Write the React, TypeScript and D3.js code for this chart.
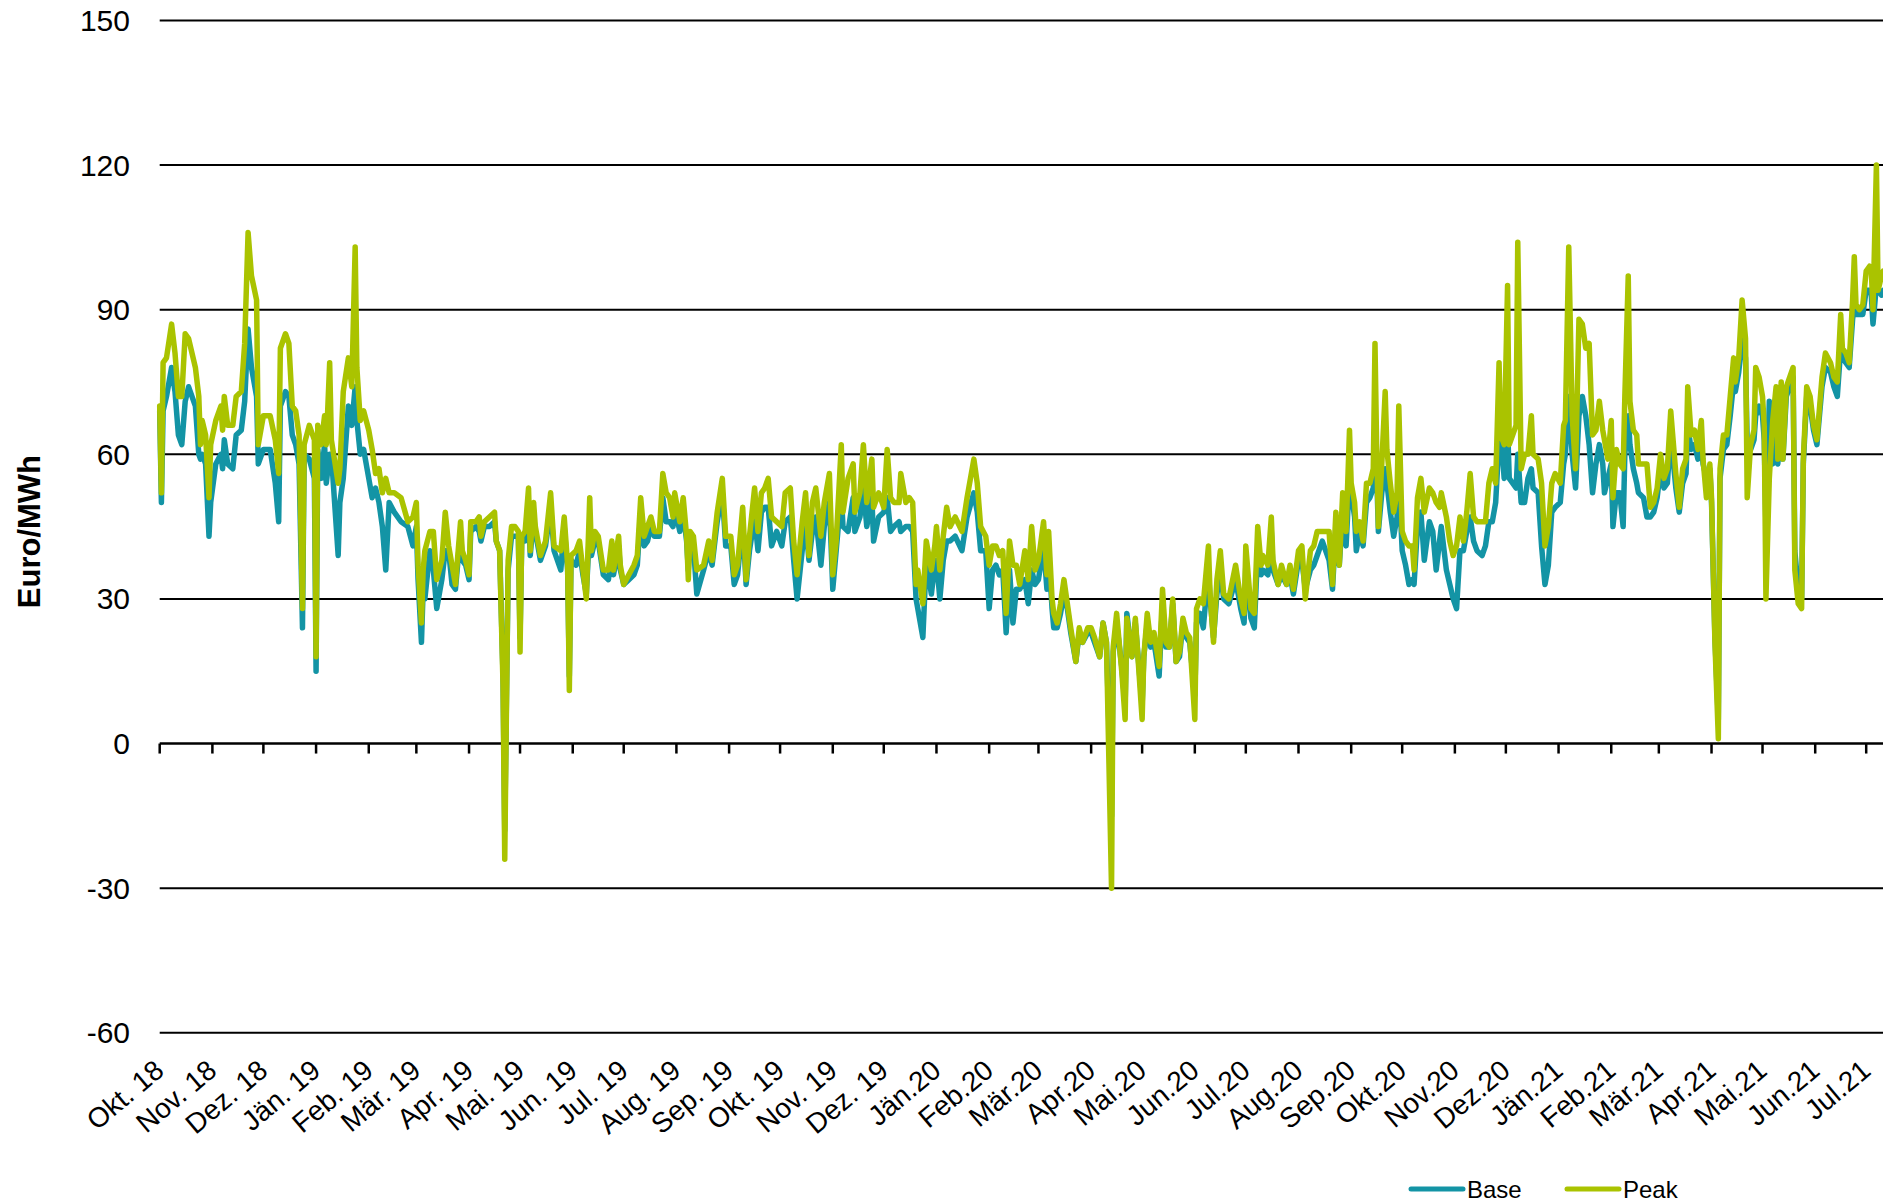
import React, { useEffect, useRef } from 'react';
import * as d3 from 'd3';

// one row per month, Okt.18 .. Jul.21
const monthLabels = [
  'Okt. 18', 'Nov. 18', 'Dez. 18', 'Jän. 19', 'Feb. 19', 'Mär. 19', 'Apr. 19', 'Mai. 19',
  'Jun. 19', 'Jul. 19', 'Aug. 19', 'Sep. 19', 'Okt. 19', 'Nov. 19', 'Dez. 19',
  'Jän.20', 'Feb.20', 'Mär.20', 'Apr.20', 'Mai.20', 'Jun.20', 'Jul.20', 'Aug.20', 'Sep.20',
  'Okt.20', 'Nov.20', 'Dez.20', 'Jän.21', 'Feb.21', 'Mär.21', 'Apr.21', 'Mai.21', 'Jun.21', 'Jul.21',
];

// day of month of each reading
const days = [
  [1, 2, 3, 5, 8, 10, 12, 14, 16, 18, 22, 24, 25, 26, 28, 30, 31],
  [3, 6, 7, 8, 10, 13, 15, 18, 20, 22, 24, 27, 28],
  [1, 5, 8, 10, 11, 14, 16, 18, 20, 22, 24, 25, 28, 31],
  [1, 2, 4, 6, 7, 9, 10, 14, 15, 17, 20, 22, 24, 25, 27, 29],
  [1, 3, 5, 7, 9, 11, 13, 16, 20, 24, 27],
  [1, 2, 4, 5, 6, 9, 11, 13, 16, 18, 20, 22, 24, 27, 28, 30],
  [1, 2, 5, 7, 8, 10, 13, 16, 17, 19, 21, 22, 24, 26, 28, 30],
  [1, 2, 4, 6, 7, 9, 10, 13, 16, 19, 21, 25, 27, 29, 30, 31],
  [3, 5, 7, 9, 11, 12, 14, 16, 19, 22, 24, 25, 28, 29],
  [1, 4, 7, 9, 11, 13, 15, 17, 19, 22, 24, 26, 28, 30, 31],
  [3, 5, 7, 8, 9, 11, 13, 17, 20, 22, 25, 28, 30],
  [2, 4, 6, 9, 11, 13, 16, 18, 20, 22, 24, 26, 29],
  [2, 4, 7, 9, 11, 14, 16, 18, 20, 22, 25, 27, 30],
  [1, 3, 6, 7, 10, 13, 14, 17, 19, 21, 24, 25, 28],
  [1, 3, 5, 7, 10, 11, 14, 16, 18, 20, 21, 24, 26, 29, 31],
  [1, 3, 5, 7, 9, 12, 16, 19, 23, 25, 27, 30],
  [1, 3, 5, 7, 9, 11, 13, 15, 17, 19, 22, 24, 26, 28],
  [1, 4, 6, 7, 9, 10, 12, 14, 16, 18, 20, 23, 25, 27, 30],
  [1, 3, 6, 8, 10, 13, 14, 16, 19, 21, 22, 25, 27],
  [1, 2, 4, 6, 8, 11, 13, 15, 17, 19, 21, 23, 25, 27, 29],
  [1, 2, 4, 6, 9, 10, 12, 14, 16, 18, 21, 25, 28, 30],
  [1, 4, 6, 8, 10, 11, 14, 16, 17, 20, 22, 25, 27, 29],
  [1, 3, 5, 8, 10, 12, 15, 19, 21, 23, 25, 27, 29, 31],
  [1, 3, 4, 6, 8, 10, 12, 14, 15, 16, 17, 19, 21, 22, 24, 26, 28, 29],
  [1, 3, 5, 7, 8, 10, 12, 14, 17, 19, 21, 23, 24, 27, 29, 31],
  [2, 4, 6, 8, 10, 12, 14, 17, 19, 21, 23, 25, 27, 28, 30],
  [2, 3, 5, 7, 8, 10, 12, 14, 16, 17, 20, 22, 24, 26, 28, 30],
  [2, 4, 5, 7, 9, 11, 13, 15, 17, 19, 21, 23, 25, 27, 28, 30],
  [1, 2, 4, 6, 8, 9, 11, 12, 14, 16, 17, 20, 22, 24, 26, 28],
  [2, 4, 6, 8, 11, 13, 15, 17, 18, 20, 22, 24, 26, 27, 29, 31],
  [1, 3, 5, 6, 8, 10, 12, 14, 15, 17, 19, 21, 22, 24, 26, 27, 29],
  [1, 2, 3, 5, 7, 9, 10, 12, 13, 15, 17, 19, 20, 22, 24, 25, 27, 29, 31],
  [2, 5, 7, 10, 12, 14, 16, 17, 19, 21, 23, 24, 25, 27, 29],
  [1, 3, 4, 5, 7, 8, 10, 11],
];

const peak = [
  [70, 52, 79, 80, 87, 81, 72, 72, 85, 84, 78, 72, 62, 67, 64, 51, 62],
  [67, 70, 65, 72, 66, 66, 72, 73, 83, 106, 97, 92, 62],
  [68, 68, 63, 56, 82, 85, 83, 70, 69, 64, 28, 62, 66, 63],
  [18, 66, 62, 68, 62, 79, 63, 54, 57, 73, 80, 74, 103, 78, 67, 69],
  [65, 61, 56, 57, 52, 55, 52, 52, 51, 46, 47],
  [50, 37, 25, 36, 40, 44, 44, 34, 38, 48, 41, 37, 33, 46, 40, 38],
  [35, 46, 46, 47, 43, 46, 47, 48, 42, 40, 12, -24, 38, 45, 45, 44],
  [19, 43, 44, 53, 40, 50, 45, 39, 42, 52, 41, 40, 47, 37, 11, 39],
  [40, 42, 36, 30, 51, 40, 44, 43, 36, 36, 42, 36, 43, 37],
  [33, 35, 37, 39, 51, 43, 45, 47, 44, 44, 56, 52, 51, 47, 52],
  [46, 51, 43, 34, 44, 43, 36, 37, 42, 38, 48, 55, 43],
  [43, 35, 37, 49, 34, 43, 53, 44, 52, 53, 55, 47, 46],
  [45, 52, 53, 42, 35, 46, 52, 39, 50, 53, 43, 50, 56],
  [35, 42, 62, 48, 55, 58, 48, 52, 62, 50, 59, 49, 52],
  [49, 61, 51, 50, 50, 56, 50, 51, 50, 33, 36, 29, 42, 36, 41],
  [45, 36, 43, 49, 45, 47, 44, 51, 59, 54, 45, 43],
  [37, 41, 41, 39, 40, 27, 42, 37, 37, 33, 40, 34, 45, 36],
  [38, 46, 35, 44, 30, 27, 25, 29, 34, 29, 24, 17, 24, 21, 24],
  [24, 22, 18, 25, 21, -30, 20, 27, 15, 5, 26, 18, 26],
  [5, 18, 27, 21, 23, 16, 32, 21, 20, 30, 17, 19, 26, 23, 22],
  [5, 28, 30, 29, 41, 31, 21, 34, 40, 31, 30, 37, 30, 27],
  [41, 28, 27, 45, 37, 39, 37, 47, 38, 33, 37, 33, 37, 32],
  [40, 41, 30, 40, 41, 44, 44, 44, 33, 48, 37, 52, 44, 65],
  [54, 50, 44, 46, 42, 54, 54, 57, 83, 61, 45, 58, 73, 61, 54, 48, 52, 70],
  [44, 42, 41, 41, 36, 51, 55, 48, 53, 52, 50, 49, 52, 47, 42, 39],
  [41, 47, 42, 48, 56, 47, 46, 46, 46, 54, 57, 54, 79, 64, 62],
  [95, 62, 64, 66, 104, 57, 60, 60, 68, 60, 59, 54, 41, 45, 54, 56],
  [54, 66, 67, 103, 68, 57, 88, 87, 82, 83, 64, 65, 71, 65, 63, 59],
  [67, 51, 61, 58, 57, 72, 97, 71, 65, 64, 58, 58, 58, 49, 50, 53],
  [60, 55, 57, 69, 56, 49, 57, 59, 74, 64, 65, 61, 67, 59, 51, 58],
  [51, 21, 1, 57, 64, 64, 72, 80, 75, 80, 92, 84, 51, 62, 65, 78, 76],
  [72, 66, 30, 55, 67, 74, 59, 75, 59, 74, 76, 78, 36, 29, 28, 59, 74, 72, 66],
  [63, 76, 81, 79, 76, 75, 89, 82, 81, 79, 92, 101, 91, 90, 91],
  [98, 99, 98, 90, 120, 94, 97, 98],
];

const base = [
  [69, 50, 69, 72, 78, 73, 64, 62, 71, 74, 70, 60, 59, 60, 58, 43, 50],
  [58, 60, 57, 63, 58, 57, 64, 65, 71, 86, 78, 72, 58],
  [61, 61, 54, 46, 70, 73, 72, 64, 62, 58, 24, 60, 59, 55],
  [15, 61, 55, 62, 54, 60, 60, 39, 50, 55, 70, 66, 74, 67, 60, 61],
  [55, 51, 53, 50, 45, 36, 50, 48, 46, 45, 41],
  [45, 34, 21, 32, 30, 40, 36, 28, 34, 40, 40, 33, 32, 44, 38, 37],
  [34, 44, 45, 44, 42, 45, 45, 46, 42, 40, 14, -18, 36, 43, 43, 43],
  [22, 42, 42, 49, 39, 47, 44, 38, 41, 49, 40, 36, 45, 36, 14, 38],
  [37, 40, 35, 31, 45, 39, 42, 42, 35, 34, 40, 35, 41, 36],
  [33, 34, 35, 37, 48, 41, 42, 45, 43, 43, 51, 46, 46, 45, 49],
  [44, 48, 42, 36, 42, 41, 31, 36, 40, 37, 46, 52, 41],
  [41, 33, 35, 46, 33, 40, 47, 40, 48, 49, 49, 41, 44],
  [41, 46, 47, 38, 30, 40, 46, 38, 44, 47, 37, 45, 50],
  [32, 40, 52, 45, 44, 51, 44, 47, 53, 45, 51, 42, 47],
  [48, 51, 44, 45, 46, 44, 45, 45, 44, 30, 28, 22, 38, 31, 37],
  [38, 30, 38, 42, 42, 43, 40, 47, 52, 48, 40, 40],
  [28, 36, 37, 35, 36, 23, 36, 25, 32, 32, 34, 29, 36, 33],
  [34, 41, 32, 40, 28, 24, 24, 27, 31, 28, 23, 17, 23, 21, 23],
  [23, 21, 18, 25, 21, -15, 19, 25, 16, 8, 27, 18, 25],
  [8, 18, 25, 20, 21, 14, 29, 20, 20, 29, 17, 18, 25, 22, 21],
  [10, 25, 27, 24, 36, 30, 22, 31, 36, 30, 29, 34, 28, 25],
  [37, 26, 24, 40, 35, 36, 35, 44, 36, 33, 35, 33, 35, 31],
  [38, 38, 32, 36, 37, 39, 42, 38, 32, 45, 37, 48, 41, 55],
  [52, 47, 40, 44, 41, 50, 51, 53, 62, 56, 44, 52, 57, 54, 48, 43, 47, 55],
  [40, 37, 33, 34, 33, 45, 48, 38, 46, 44, 36, 42, 45, 36, 33, 30],
  [28, 40, 40, 44, 47, 42, 40, 39, 41, 46, 46, 50, 63, 65, 55],
  [66, 55, 54, 53, 60, 50, 50, 55, 57, 53, 52, 41, 33, 37, 48, 49],
  [50, 58, 60, 72, 60, 53, 68, 72, 68, 62, 52, 58, 62, 58, 52, 55],
  [58, 45, 52, 52, 45, 60, 68, 62, 57, 54, 52, 51, 47, 47, 48, 51],
  [57, 53, 54, 64, 53, 48, 54, 56, 66, 61, 62, 59, 63, 58, 55, 57],
  [50, 22, 5, 55, 61, 62, 68, 75, 73, 77, 84, 80, 62, 61, 63, 68, 70],
  [68, 63, 45, 71, 58, 70, 58, 72, 59, 72, 74, 76, 40, 32, 30, 58, 72, 70, 65],
  [62, 74, 78, 77, 74, 72, 82, 80, 79, 78, 88, 91, 89, 89, 89],
  [94, 94, 93, 87, 95, 94, 93, 94],
];

const yTicks = [150, 120, 90, 60, 30, 0, -30, -60];
const seriesNames = ['Base', 'Peak'];
const seriesColors = ['#1394a5', '#aac300'];

const FONT = "'Liberation Sans', Arial, sans-serif";

const App = () => {
  const ref = useRef<SVGSVGElement>(null);

  const drawChart = () => {
    const svgWidth = 1883,
      svgHeight = 1202;
    const svg = d3.select(ref.current).attr('width', svgWidth).attr('height', svgHeight);
    svg.selectAll('*').remove();

    const start = new Date(2018, 9, 1);
    const months = d3.timeMonth.range(start, new Date(2021, 7, 1));

    const x = d3.scaleTime().domain([start, new Date(2021, 6, 1)]).range([159.7, 1866.2]);
    const y = d3.scaleLinear().domain([-60, 150]).range([1032.8, 20.4]);

    const rows: { date: Date; base: number; peak: number }[] = [];
    days.forEach((row, i) => {
      row.forEach((d, j) => {
        rows.push({
          date: new Date(months[i].getFullYear(), months[i].getMonth(), d),
          base: base[i][j],
          peak: peak[i][j],
        });
      });
    });

    // gridlines
    svg
      .append('g')
      .selectAll('line')
      .data(yTicks.filter((v) => v !== 0))
      .join('line')
      .attr('x1', x(start))
      .attr('x2', svgWidth)
      .attr('y1', (d) => y(d))
      .attr('y2', (d) => y(d))
      .attr('stroke', '#000')
      .attr('stroke-width', 2);

    // y labels
    svg
      .append('g')
      .selectAll('text')
      .data(yTicks)
      .join('text')
      .attr('x', 130)
      .attr('y', (d) => y(d))
      .attr('text-anchor', 'end')
      .attr('dominant-baseline', 'central')
      .attr('font-family', FONT)
      .attr('font-size', 30)
      .text((d) => d);

    svg
      .append('text')
      .attr('transform', `translate(29,${(y(150) + y(-60)) / 2 + 5}) rotate(-90)`)
      .attr('text-anchor', 'middle')
      .attr('dominant-baseline', 'central')
      .attr('font-family', FONT)
      .attr('font-weight', 'bold')
      .attr('font-size', 31)
      .text('Euro/MWh');

    // zero axis with month ticks
    const g0 = svg.append('g');
    g0.append('line')
      .attr('x1', x(start))
      .attr('x2', svgWidth)
      .attr('y1', y(0))
      .attr('y2', y(0))
      .attr('stroke', '#000')
      .attr('stroke-width', 2.5);
    g0.selectAll('.tick')
      .data(months)
      .join('line')
      .attr('class', 'tick')
      .attr('x1', (d) => x(d))
      .attr('x2', (d) => x(d))
      .attr('y1', y(0))
      .attr('y2', y(0) + 10)
      .attr('stroke', '#000')
      .attr('stroke-width', 2.5);

    svg
      .append('g')
      .selectAll('text')
      .data(months)
      .join('text')
      .attr('transform', (d) => `translate(${x(d)},1066) rotate(-40)`)
      .attr('text-anchor', 'end')
      .attr('dominant-baseline', 'central')
      .attr('font-family', FONT)
      .attr('font-size', 28)
      .text((d, i) => monthLabels[i]);

    // lines
    const keys: ('base' | 'peak')[] = ['base', 'peak'];
    keys.forEach((k, i) => {
      const line = d3
        .line<{ date: Date; base: number; peak: number }>()
        .x((d) => x(d.date))
        .y((d) => y(d[k]));
      svg
        .append('path')
        .datum(rows)
        .attr('fill', 'none')
        .attr('stroke', seriesColors[i])
        .attr('stroke-width', 5.5)
        .attr('stroke-linejoin', 'round')
        .attr('stroke-linecap', 'round')
        .attr('d', line);
    });

    // legend
    const legendX = [1411, 1567];
    seriesNames.forEach((name, i) => {
      const lg = svg.append('g');
      lg.append('line')
        .attr('x1', legendX[i])
        .attr('x2', legendX[i] + 52)
        .attr('y1', 1189)
        .attr('y2', 1189)
        .attr('stroke', seriesColors[i])
        .attr('stroke-width', 5)
        .attr('stroke-linecap', 'round');
      lg.append('text')
        .attr('x', legendX[i] + 56)
        .attr('y', 1189)
        .attr('dominant-baseline', 'central')
        .attr('font-family', FONT)
        .attr('font-size', 24)
        .text(name);
    });
  };

  useEffect(() => {
    drawChart();
  }, []);

  return (
    <div style={{ position: 'absolute', left: 0, top: 0 }}>
      <svg ref={ref} style={{ display: 'block' }} />
    </div>
  );
};

export default App;
